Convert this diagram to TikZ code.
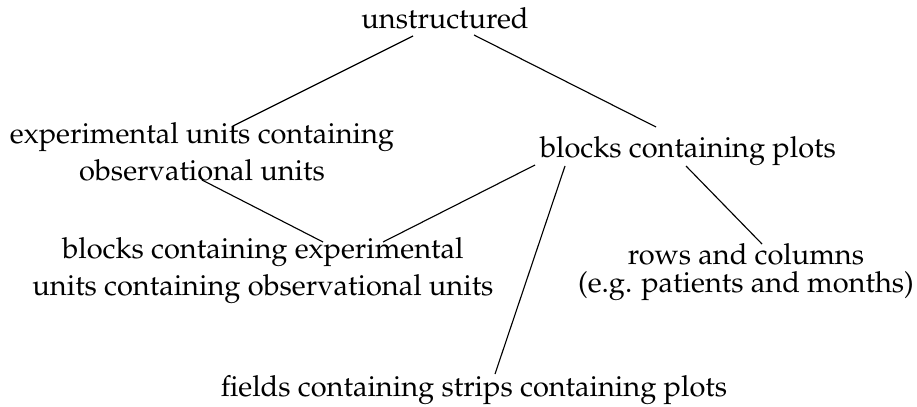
\documentclass[tikz,border=0pt]{standalone}
\usepackage[T1]{fontenc}
\usepackage{mathpazo}
\usetikzlibrary{calc}
\tikzset{
  lbl/.style={inner sep=0pt, anchor=base, align=center, font=\fontsize{11.6pt}{14.8pt}\selectfont},
  lblr/.style={lbl, font=\fontsize{11.6pt}{11pt}\selectfont},
  conn/.style={line width=0.45pt, black}
}
\begin{document}
\begin{tikzpicture}[x=0.4pt, y=-0.4pt]
\useasboundingbox (0,0) rectangle (917,406);
\node[lbl] (u) at (445,29) {unstructured};
\node[lbl] (e) at (202,180) {experimental units containing\\observational units};
\node[lbl] (b) at (688,157) {blocks containing plots};
\node[lbl] (be) at (263,295) {blocks containing experimental\\units containing observational units};
\node[lblr] (r) at (746,292) {rows and columns\\(e.g. patients and months)};
\node[lbl] (f) at (474,396) {fields containing strips containing plots};
\draw[conn] ($(u.base)+(-32,7)$) -- ($(e.base)+(31,-54)$);
\draw[conn] ($(u.base)+(29,6)$) -- ($(b.base)+(-32,-30)$);
\draw[conn] ($(e.base)+(0,0)$) -- ($(be.base)+(60,-53)$);
\draw[conn] ($(b.base)+(-153,8)$) -- ($(be.base)+(120,-53)$);
\draw[conn] ($(b.base)+(-123,9)$) -- ($(f.base)+(21,-22)$);
\draw[conn] ($(b.base)+(-2,9)$) -- ($(r.base)+(16,-48)$);
\end{tikzpicture}
\end{document}
